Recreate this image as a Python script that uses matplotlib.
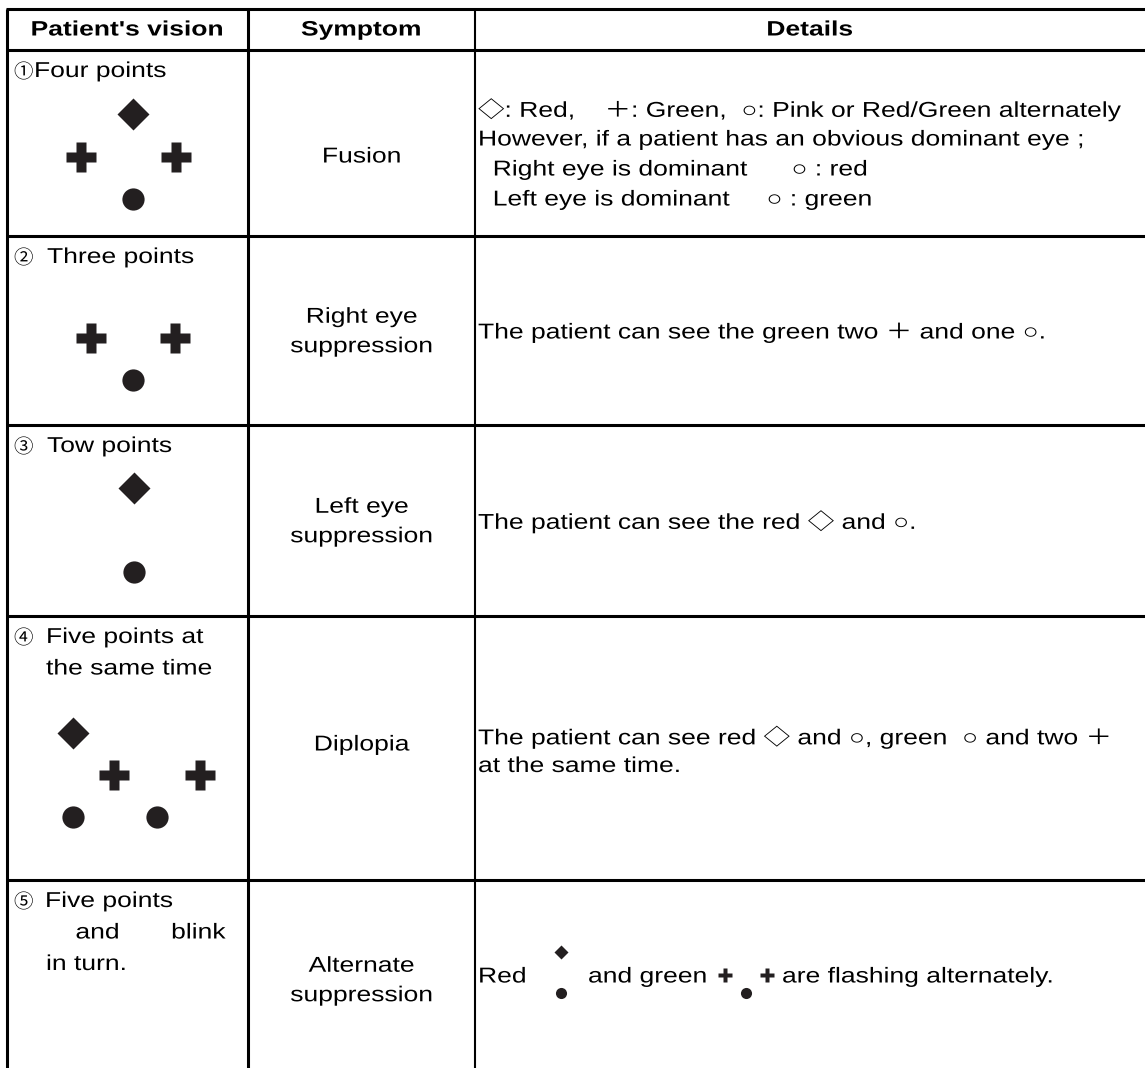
"""
Worth 4 dot test - what the patient sees, redrawn as a plain table.
The source picture is stretched sideways, so the glyphs are widened too.
"""

import matplotlib.pyplot as plt
from matplotlib.patheffects import AbstractPathEffect
from matplotlib.transforms import Affine2D

plt.rcParams["font.family"] = ["Liberation Sans", "Noto Sans CJK JP", "DejaVu Sans"]

INK = "#000000"
MARK = "#231f20"
SX = 1.23          # horizontal stretch of the lettering

# -----------------------------------------------------------------------
# TABLE CONTENT
# -----------------------------------------------------------------------
HEADERS = ["Patient's vision", "Symptom", "Details"]

VISION_NUM = ["①", "②", "③", "④", "⑤"]
VISION = [
    ["Four points"],
    ["Three points"],
    ["Tow points"],
    ["Five points at", "the same time"],
    ["Five points", "    and       blink", "in turn."],
]

SYMPTOMS = [["Fusion"], ["Right eye", "suppression"], ["Left eye", "suppression"],
            ["Diplopia"], ["Alternate", "suppression"]]

DETAILS = [
    ["◇: Red,    ＋: Green,  ○: Pink or Red/Green alternately",
     "However, if a patient has an obvious dominant eye ;",
     "  Right eye is dominant      ○ : red",
     "  Left eye is dominant     ○ : green"],
    ["The patient can see the green two ＋ and one ○."],
    ["The patient can see the red ◇ and ○."],
    ["The patient can see red ◇ and ○, green  ○ and two ＋",
     "at the same time."],
]
ALT_WORDS = ["Red", "and green", "are flashing alternately."]

# pictograms in the first column: (marker, dx from cell centre, dy from row top)
ICONS = [
    [("D", 5.5, 64), ("P", -46.5, 107), ("P", 48, 107), ("o", 5.5, 149)],
    [("P", -37, 102), ("P", 47.5, 102), ("o", 5.5, 144)],
    [("D", 6.5, 63), ("o", 6.5, 147)],
    [("D", -54.5, 117), ("P", -13.5, 159), ("P", 72.5, 159),
     ("o", -54.5, 201), ("o", 29.5, 201)],
]
MARKER_SIZE = {"D": 16.3, "P": 22.3, "o": 16}

# small inline marks of row 5: (marker, x, y, size)
ALT_MARKS = [("D", 561, 952, 7.5), ("o", 561, 993, 8),
             ("P", 725, 975, 10), ("o", 746, 993, 8), ("P", 767, 975, 10)]

# -----------------------------------------------------------------------
# LAYOUT (pixels, origin top-left)
# -----------------------------------------------------------------------
W, H = 1145, 1068
COL_X = [7, 248, 475, W]
ROW_Y = [9, 50, 236, 425, 616, 880]
LABEL_X = [34, 47, 47, 46, 45]
SYM_Y = [157, 332, 522, 745, 981]
DET_Y = [155, 333, 522, 752, 977]
DET_GAP = [30, 30, 30, 29, 30]


class StretchX(AbstractPathEffect):
    """Widen glyph outlines about a fixed x position (display pixels)."""

    def __init__(self, x0, sx=SX):
        super().__init__()
        self._stretch = Affine2D().translate(-x0, 0).scale(sx, 1).translate(x0, 0)

    def draw_path(self, renderer, gc, tpath, affine, rgbFace=None):
        renderer.draw_path(gc, tpath, affine + self._stretch, rgbFace)


fig = plt.figure(figsize=(W / 100, H / 100), dpi=100)
ax = fig.add_axes([0, 0, 1, 1])
ax.set_xlim(0, W)
ax.set_ylim(H, 0)
ax.axis("off")


def put(x, y, s, ha="left", size=15.5, weight="normal", sx=SX):
    ax.text(x, y, s, ha=ha, va="center", fontsize=size, fontweight=weight,
            color=INK, path_effects=[StretchX(x, sx)])


# grid lines
for y in ROW_Y:
    ax.plot([COL_X[0] - 1.5, W], [y, y], color=INK, lw=2.2,
            solid_capstyle="butt")
for x, lw in zip(COL_X[:3], [2.2, 2.2, 1.5]):
    ax.plot([x, x], [ROW_Y[0], H], color=INK, lw=lw, solid_capstyle="butt")

# header
for i, head in enumerate(HEADERS):
    put((COL_X[i] + COL_X[i + 1]) / 2, 30, head, ha="center", size=15,
        weight="bold", sx=1.27)

# first column: number, label, pictogram
col1_cx = (COL_X[0] + COL_X[1]) / 2
for r, lines in enumerate(VISION):
    top = ROW_Y[r + 1]
    y0 = top + 21.5
    put(14, y0 + 1, VISION_NUM[r], size=14, sx=1.0)
    for k, line in enumerate(lines):
        put(LABEL_X[r] if k == 0 else 46, y0 + k * 31.5, line)
    if r < len(ICONS):
        for m, dx, dy in ICONS[r]:
            ax.plot(col1_cx + dx, top + dy, marker=m, ms=MARKER_SIZE[m],
                    color=MARK, mec="none", ls="none")

# symptom column
col2_cx = (COL_X[1] + COL_X[2]) / 2
for r, lines in enumerate(SYMPTOMS):
    n = len(lines)
    for k, line in enumerate(lines):
        put(col2_cx, SYM_Y[r] + (k - (n - 1) / 2) * 29.5, line, ha="center")

# details column
for r, lines in enumerate(DETAILS):
    n = len(lines)
    for k, line in enumerate(lines):
        put(COL_X[2] + 3, DET_Y[r] + (k - (n - 1) / 2) * DET_GAP[r], line)

# row 5 mixes words and small marks
for word, x in zip(ALT_WORDS, [478, 588, 782]):
    put(x, DET_Y[4], word)
for m, x, y, s in ALT_MARKS:
    ax.plot(x, y, marker=m, ms=s, color=MARK, mec="none", ls="none")

fig.savefig("out.png", dpi=100)
